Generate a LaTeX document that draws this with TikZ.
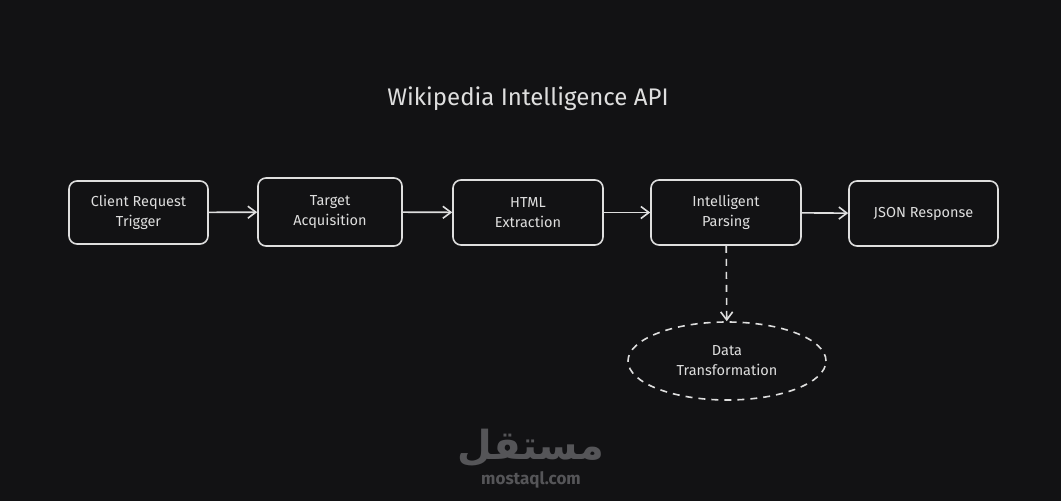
\documentclass[tikz,border=0pt]{standalone}
\usepackage{fontspec}
\setmainfont{Fira Sans}
\newfontfamily\arabicfont[Script=Arabic]{DejaVu Sans}
\TeXXeTstate=1
\usetikzlibrary{shapes.geometric,arrows.meta}
\definecolor{bg}{RGB}{18,18,20}
\definecolor{fg}{RGB}{222,222,222}
\definecolor{wm}{RGB}{85,85,88}
\tikzset{
 stepbox/.style={draw=fg,line width=1.6pt,rounded corners=8pt,text=fg,align=center,font=\fontsize{14.5}{20}\selectfont,inner sep=0pt},
 conn/.style={draw=fg,line width=1.6pt,-{Straight Barb[length=8pt,width=12pt]}},
 longdash/.style={dash pattern=on 7pt off 6pt},
}
\begin{document}
\begin{tikzpicture}[x=1pt,y=-1pt]
\fill[bg] (0,0) rectangle (1061,501);
\useasboundingbox (0,0) rectangle (1061,501);
\node[text=fg,font=\fontsize{24}{28}\selectfont] (title) at (528,99) {Wikipedia Intelligence API};
\node[stepbox,minimum width=139pt,minimum height=63pt] (a) at (138.5,212.5) {Client Request\\Trigger};
\node[stepbox,minimum width=144pt,minimum height=68pt] (b) at (330,212) {Target\\Acquisition};
\node[stepbox,minimum width=150pt,minimum height=65pt] (c) at (528,212.5) {HTML\\Extraction};
\node[stepbox,minimum width=150pt,minimum height=65pt] (d) at (726,212.5) {Intelligent\\Parsing};
\node[stepbox,minimum width=149pt,minimum height=65pt] (e) at (923.5,213.5) {JSON Response};
\node[ellipse,draw=fg,longdash,line width=1.6pt,text=fg,align=center,font=\fontsize{14.5}{20}\selectfont,minimum width=198pt,minimum height=78pt,inner sep=0pt] (f) at (727,361) {Data\\Transformation};
\draw[conn] (a) -- (b);
\draw[conn] (b) -- (c);
\draw[conn] (c) -- (d);
\draw[conn] (d) -- (e);
\draw[conn,longdash] (d) -- (f);
\node[text=wm,font=\arabicfont\bfseries\fontsize{40}{42}\selectfont] (wa) at (531,448) {\beginR مستقل\endR};
\node[text=wm,font=\fontsize{17}{20}\selectfont\bfseries] (wb) at (531,480) {mostaql.com};
\end{tikzpicture}
\end{document}
